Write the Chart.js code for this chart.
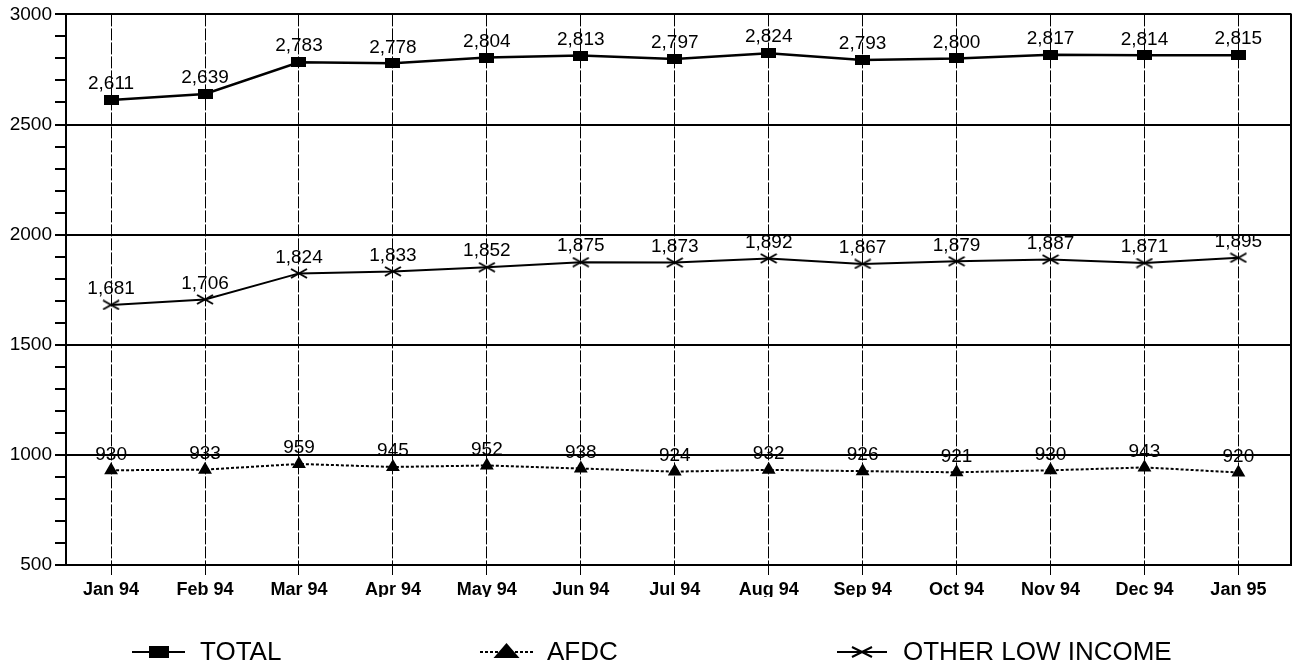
<!DOCTYPE html>
<html>
<head>
<meta charset="utf-8">
<script src="https://cdn.jsdelivr.net/npm/chart.js@4/dist/chart.umd.min.js"></script>
<style>
  html, body { margin: 0; padding: 0; background: #fff; overflow: hidden; }
  #wrap { width: 1292px; height: 665px; position: relative; overflow: hidden; }
  #c { display: block; }
</style>
</head>
<body>
<div id="wrap"><canvas id="c" width="1302" height="665"></canvas></div>
<script>
const categories = ['Jan 94','Feb 94','Mar 94','Apr 94','May 94','Jun 94','Jul 94','Aug 94','Sep 94','Oct 94','Nov 94','Dec 94','Jan 95'];
const totalValues = [2611, 2639, 2783, 2778, 2804, 2813, 2797, 2824, 2793, 2800, 2817, 2814, 2815];
const afdcValues  = [930, 933, 959, 945, 952, 938, 924, 932, 926, 921, 930, 943, 920];
const otherValues = [1681, 1706, 1824, 1833, 1852, 1875, 1873, 1892, 1867, 1879, 1887, 1871, 1895];
const seriesNames = ['TOTAL', 'AFDC', 'OTHER LOW INCOME'];
const yMin = 500, yMax = 3000, yMajorStep = 500, yMinorStep = 100;

Chart.defaults.font.family = '"Liberation Sans", Arial, sans-serif';
Chart.defaults.color = '#000';

function rectMarker(w, h) {
  const c = document.createElement('canvas');
  c.width = w; c.height = h;
  const g = c.getContext('2d');
  g.fillStyle = '#000'; g.fillRect(0, 0, w, h);
  return c;
}
function xMarker(w, h) {
  const c = document.createElement('canvas');
  c.width = w; c.height = h;
  const g = c.getContext('2d');
  g.strokeStyle = '#000'; g.lineWidth = 2;
  g.beginPath();
  g.moveTo(1, 1); g.lineTo(w - 1, h - 1);
  g.moveTo(1, h - 1); g.lineTo(w - 1, 1);
  g.stroke();
  return c;
}
const sqMark = rectMarker(15, 10);
const xMark = xMarker(18, 11);
const sqLegend = rectMarker(20, 12);
const xLegend = xMarker(22, 12);

const toPts = arr => arr.map((v, i) => ({ x: i, y: v }));

const dataLabels = {
  id: 'dataLabels',
  afterDatasetsDraw(chart) {
    const ctx = chart.ctx;
    ctx.save();
    ctx.fillStyle = '#000';
    ctx.font = '19px "Liberation Sans", Arial, sans-serif';
    ctx.textAlign = 'center';
    ctx.textBaseline = 'middle';
    chart.data.datasets.forEach((ds, di) => {
      const meta = chart.getDatasetMeta(di);
      meta.data.forEach((pt, i) => {
        const v = ds.data[i].y;
        ctx.fillText(v.toLocaleString('en-US'), pt.x, pt.y - 16);
      });
    });
    ctx.restore();
  }
};

const frameAndLegend = {
  id: 'frameAndLegend',
  afterDraw(chart) {
    const ctx = chart.ctx;
    const a = chart.chartArea;
    ctx.save();
    ctx.strokeStyle = '#000';
    ctx.lineWidth = 2;
    ctx.beginPath(); ctx.moveTo(a.right, a.top - 1); ctx.lineTo(a.right, a.bottom + 1); ctx.stroke();

    const y = 652;
    const items = [
      { x0: 132, x1: 185, tx: 200, dash: [], mark: 'sq' },
      { x0: 480, x1: 533, tx: 547, dash: [3, 2], mark: 'tri' },
      { x0: 837, x1: 887, tx: 903, dash: [], mark: 'x' }
    ];
    items.forEach((it, i) => {
      ctx.strokeStyle = '#000';
      ctx.lineWidth = 2;
      ctx.setLineDash(it.dash);
      ctx.beginPath(); ctx.moveTo(it.x0, y); ctx.lineTo(it.x1, y); ctx.stroke();
      ctx.setLineDash([]);
      const cx = (it.x0 + it.x1) / 2;
      if (it.mark === 'sq') ctx.drawImage(sqLegend, cx - 10, y - 6);
      else if (it.mark === 'x') ctx.drawImage(xLegend, cx - 11, y - 6);
      else {
        ctx.fillStyle = '#000';
        ctx.beginPath();
        ctx.moveTo(cx, y - 9); ctx.lineTo(cx + 13, y + 6); ctx.lineTo(cx - 13, y + 6);
        ctx.closePath(); ctx.fill();
      }
      ctx.fillStyle = '#000';
      ctx.font = '26px "Liberation Sans", Arial, sans-serif';
      ctx.textAlign = 'left';
      ctx.textBaseline = 'middle';
      ctx.fillText(seriesNames[i], it.tx, y + 1);
    });
    ctx.restore();
  }
};

new Chart(document.getElementById('c'), {
  type: 'line',
  data: {
    datasets: [
      { label: seriesNames[0], data: toPts(totalValues), borderColor: '#000', backgroundColor: '#000',
        borderWidth: 2.5, pointStyle: sqMark, pointRadius: 8, tension: 0 },
      { label: seriesNames[1], data: toPts(afdcValues), borderColor: '#000', backgroundColor: '#000',
        borderWidth: 2, borderDash: [3, 2], pointStyle: 'triangle', pointRadius: 6, tension: 0 },
      { label: seriesNames[2], data: toPts(otherValues), borderColor: '#000', backgroundColor: '#000',
        borderWidth: 2, pointStyle: xMark, pointRadius: 9, tension: 0 }
    ]
  },
  options: {
    responsive: false,
    animation: false,
    events: [],
    layout: { padding: { top: 12, right: 1, bottom: 68, left: 0 } },
    plugins: { legend: { display: false }, tooltip: { enabled: false } },
    scales: {
      x: {
        type: 'linear',
        min: -0.48, max: 12.56,
        afterBuildTicks: s => { s.ticks = categories.map((_, i) => ({ value: i })); },
        afterFit: s => { s.height = 32; },
        ticks: {
          autoSkip: false, maxRotation: 0,
          callback: v => categories[v] ?? '',
          font: { size: 18, weight: 'bold' }, color: '#000', padding: 4
        },
        grid: { color: '#000', lineWidth: 1, tickColor: '#000', tickLength: 10, tickWidth: 1 },
        border: { color: '#000', width: 2, dash: [12, 2] }
      },
      y: {
        min: yMin, max: yMax,
        afterFit: s => { s.width = 66; },
        ticks: {
          stepSize: yMinorStep, autoSkip: false,
          callback: v => (v % yMajorStep === 0 ? String(v) : ''),
          font: { size: 19 }, color: '#000', padding: 3
        },
        grid: {
          color: c => (c.tick && c.tick.value % yMajorStep === 0 ? '#000' : 'rgba(0,0,0,0)'),
          lineWidth: 2, tickColor: '#000', tickLength: 11, tickWidth: 2
        },
        border: { color: '#000', width: 2 }
      }
    }
  },
  plugins: [dataLabels, frameAndLegend]
});
</script>
</body>
</html>
